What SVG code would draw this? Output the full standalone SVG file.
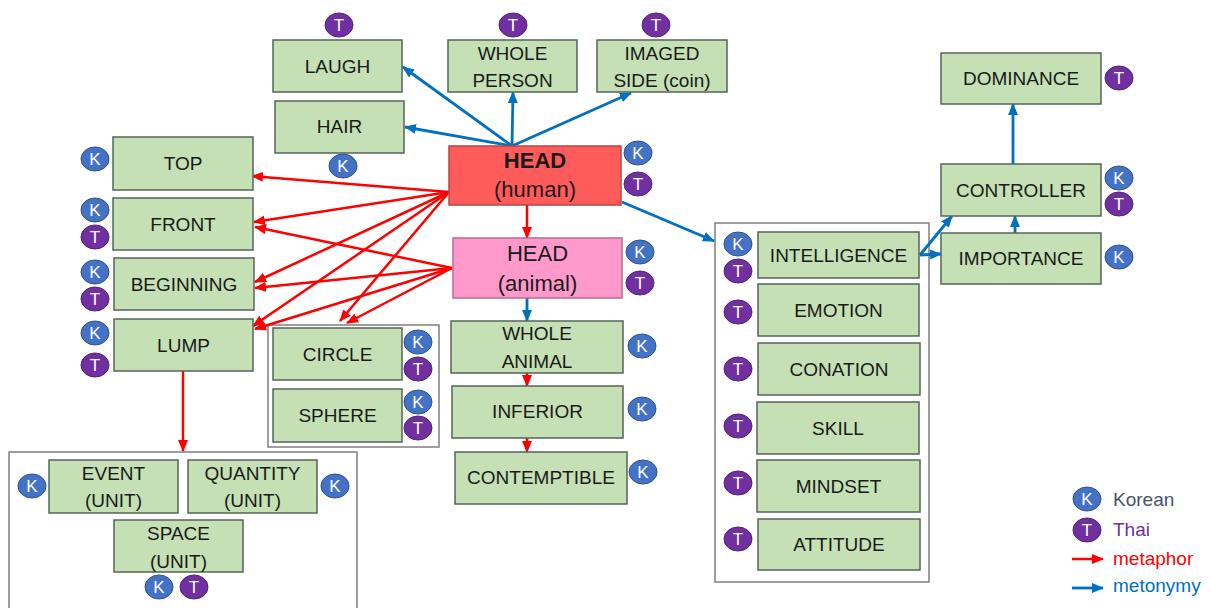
<svg xmlns="http://www.w3.org/2000/svg" width="1211" height="608" viewBox="0 0 1211 608">
<style>
.box{fill:#C5E0B4;stroke:#55655a;stroke-width:1.5}
.grp{fill:#ffffff;stroke:#7f7f7f;stroke-width:1.5}
.t{font-family:"Liberation Sans",Arial,sans-serif;font-size:19px;fill:#1a1a1a;text-anchor:middle}
.h{font-size:22px}
.b{font-weight:bold}
.k{fill:#4472C4;stroke:#2F528F;stroke-width:1}
.th{fill:#7030A0;stroke:#52237a;stroke-width:1}
.bl{font-family:"Liberation Sans",Arial,sans-serif;font-size:17px;fill:#ffffff;text-anchor:middle}
.red{stroke:#FF0000;stroke-width:2.5;fill:none;marker-end:url(#ar)}
.blue{stroke:#0070C0;stroke-width:2.8;fill:none;marker-end:url(#ab)}
.lg{font-family:"Liberation Sans",Arial,sans-serif;font-size:19px}
</style>
<defs>
<marker id="ar" markerUnits="userSpaceOnUse" markerWidth="12" markerHeight="10" refX="11" refY="5" orient="auto"><path d="M0,0 L12,5 L0,10 z" fill="#FF0000"/></marker>
<marker id="ab" markerUnits="userSpaceOnUse" markerWidth="12" markerHeight="10" refX="11" refY="5" orient="auto"><path d="M0,0 L12,5 L0,10 z" fill="#0070C0"/></marker>
<g id="K"><ellipse class="k" cx="0" cy="0" rx="14" ry="12"/><text class="bl" x="0" y="6">K</text></g>
<g id="T"><ellipse class="th" cx="0" cy="0" rx="14" ry="12"/><text class="bl" x="0" y="6">T</text></g>
</defs>
<rect width="1211" height="608" fill="#ffffff"/>

<rect id="grp-unit" class="grp" x="9" y="452" width="348" height="170"/>
<rect id="grp-shape" class="grp" x="268" y="325" width="171" height="122"/>
<rect id="grp-mind" class="grp" x="715" y="223" width="214" height="359"/>

<g id="connectors">
<line class="blue" x1="512" y1="146" x2="403" y2="67"/>
<line class="blue" x1="512" y1="146" x2="405" y2="127"/>
<line class="blue" x1="512" y1="146" x2="513" y2="92"/>
<line class="blue" x1="512" y1="146" x2="631" y2="93"/>
<line class="blue" x1="622" y1="202" x2="714" y2="241"/>
<line class="red" x1="449" y1="192" x2="252" y2="176"/>
<line class="red" x1="449" y1="192" x2="254" y2="222"/>
<line class="red" x1="449" y1="192" x2="255" y2="282"/>
<line class="red" x1="449" y1="192" x2="253" y2="326"/>
<line class="red" x1="449" y1="192" x2="340" y2="321"/>
<line class="red" x1="452" y1="268" x2="255" y2="227"/>
<line class="red" x1="452" y1="268" x2="255" y2="288"/>
<line class="red" x1="452" y1="268" x2="255" y2="329"/>
<line class="red" x1="452" y1="268" x2="347" y2="323"/>
<line class="red" x1="527" y1="205" x2="527" y2="238"/>
<line class="blue" x1="527" y1="298" x2="527" y2="321"/>
<line class="red" x1="527" y1="373" x2="527" y2="386"/>
<line class="red" x1="527" y1="438" x2="527" y2="452"/>
<line class="red" x1="183" y1="371" x2="183" y2="451"/>
<line class="blue" x1="1013" y1="164" x2="1013" y2="104"/>
<line class="blue" x1="1015" y1="233" x2="1015" y2="216"/>
<line class="blue" x1="920" y1="255" x2="952" y2="216"/>
<line class="blue" x1="920" y1="255" x2="941" y2="254"/>
</g>

<g id="laugh"><rect class="box" x="273" y="40" width="129" height="52"/><text class="t" x="337.5" y="73">LAUGH</text><use href="#T" x="339" y="25"/></g>
<g id="whole-person"><rect class="box" x="448" y="40" width="129" height="52"/><text class="t" x="512.5" y="60">WHOLE</text><text class="t" x="512.5" y="86.5">PERSON</text><use href="#T" x="513" y="25"/></g>
<g id="imaged-side"><rect class="box" x="597" y="40" width="130" height="52"/><text class="t" x="662" y="60">IMAGED</text><text class="t" x="662" y="86.5">SIDE (coin)</text><use href="#T" x="656" y="25"/></g>
<g id="hair"><rect class="box" x="275" y="101" width="129" height="52"/><text class="t" x="339.5" y="133">HAIR</text><use href="#K" x="343" y="166"/></g>
<g id="head-human"><rect x="449" y="146" width="172" height="59" fill="#FF5B5B" stroke="#b5473f" stroke-width="1.5"/><text class="t h b" x="535" y="168">HEAD</text><text class="t h" x="535" y="197">(human)</text><use href="#K" x="638" y="153"/><use href="#T" x="638" y="184"/></g>
<g id="head-animal"><rect x="453" y="238" width="169" height="60" fill="#FF99CC" stroke="#b56b8c" stroke-width="1.5"/><text class="t h" x="537.5" y="261">HEAD</text><text class="t h" x="537.5" y="291">(animal)</text><use href="#K" x="640" y="252"/><use href="#T" x="640" y="283"/></g>
<g id="whole-animal"><rect class="box" x="451" y="321" width="172" height="52"/><text class="t" x="537" y="340">WHOLE</text><text class="t" x="537" y="368">ANIMAL</text><use href="#K" x="642" y="346"/></g>
<g id="inferior"><rect class="box" x="452" y="386" width="171" height="52"/><text class="t" x="537.5" y="418">INFERIOR</text><use href="#K" x="642" y="409"/></g>
<g id="contemptible"><rect class="box" x="455" y="452" width="172" height="52"/><text class="t" x="541" y="484">CONTEMPTIBLE</text><use href="#K" x="643" y="472"/></g>

<g id="top"><rect class="box" x="113" y="137" width="140" height="53"/><text class="t" x="183" y="170">TOP</text><use href="#K" x="95" y="159"/></g>
<g id="front"><rect class="box" x="113" y="198" width="140" height="52"/><text class="t" x="183" y="230.5">FRONT</text><use href="#K" x="95" y="210"/><use href="#T" x="95" y="237"/></g>
<g id="beginning"><rect class="box" x="114" y="258" width="140" height="52"/><text class="t" x="184" y="290.5">BEGINNING</text><use href="#K" x="95" y="272"/><use href="#T" x="95" y="299"/></g>
<g id="lump"><rect class="box" x="114" y="319" width="139" height="52"/><text class="t" x="183.5" y="351.5">LUMP</text><use href="#K" x="95" y="333"/><use href="#T" x="95" y="365"/></g>

<g id="circle"><rect class="box" x="273" y="328" width="129" height="52"/><text class="t" x="337.5" y="361">CIRCLE</text><use href="#K" x="418" y="342"/><use href="#T" x="418" y="369"/></g>
<g id="sphere"><rect class="box" x="273" y="389" width="129" height="53"/><text class="t" x="337.5" y="422">SPHERE</text><use href="#K" x="418" y="402"/><use href="#T" x="418" y="428"/></g>

<g id="event"><rect class="box" x="49" y="460" width="129" height="53"/><text class="t" x="113.5" y="480">EVENT</text><text class="t" x="113.5" y="507">(UNIT)</text><use href="#K" x="32" y="486"/></g>
<g id="quantity"><rect class="box" x="188" y="460" width="129" height="53"/><text class="t" x="252.5" y="480">QUANTITY</text><text class="t" x="252.5" y="507">(UNIT)</text><use href="#K" x="335" y="486"/></g>
<g id="space"><rect class="box" x="114" y="520" width="129" height="52"/><text class="t" x="178.5" y="540">SPACE</text><text class="t" x="178.5" y="568">(UNIT)</text><use href="#K" x="159" y="587"/><use href="#T" x="194" y="587"/></g>

<g id="intelligence"><rect class="box" x="758" y="232" width="161" height="46"/><text class="t" x="838.5" y="262">INTELLIGENCE</text><use href="#K" x="738" y="244"/><use href="#T" x="738" y="271"/></g>
<g id="emotion"><rect class="box" x="758" y="284" width="161" height="52"/><text class="t" x="838.5" y="317">EMOTION</text><use href="#T" x="738" y="312"/></g>
<g id="conation"><rect class="box" x="758" y="343" width="162" height="52"/><text class="t" x="839" y="376">CONATION</text><use href="#T" x="738" y="369"/></g>
<g id="skill"><rect class="box" x="757" y="402" width="162" height="52"/><text class="t" x="838" y="434.5">SKILL</text><use href="#T" x="738" y="426"/></g>
<g id="mindset"><rect class="box" x="757" y="460" width="163" height="52"/><text class="t" x="838.5" y="493">MINDSET</text><use href="#T" x="738" y="483"/></g>
<g id="attitude"><rect class="box" x="758" y="519" width="162" height="51"/><text class="t" x="839" y="551">ATTITUDE</text><use href="#T" x="738" y="539"/></g>

<g id="dominance"><rect class="box" x="941" y="53" width="160" height="51"/><text class="t" x="1021" y="85">DOMINANCE</text><use href="#T" x="1119" y="78"/></g>
<g id="controller"><rect class="box" x="941" y="164" width="160" height="52"/><text class="t" x="1021" y="196.5">CONTROLLER</text><use href="#K" x="1119" y="178"/><use href="#T" x="1119" y="204"/></g>
<g id="importance"><rect class="box" x="941" y="233" width="160" height="51"/><text class="t" x="1021" y="265">IMPORTANCE</text><use href="#K" x="1119" y="257"/></g>

<g id="legend">
<use href="#K" x="1087" y="499"/>
<text class="lg" x="1113" y="506" fill="#44546A">Korean</text>
<use href="#T" x="1087" y="530"/>
<text class="lg" x="1113" y="536" fill="#7030A0">Thai</text>
<line x1="1072" y1="559" x2="1103" y2="559" stroke="#FF0000" stroke-width="2.5" marker-end="url(#ar)"/>
<text class="lg" x="1113" y="565" fill="#FF0000">metaphor</text>
<line x1="1072" y1="588" x2="1103" y2="588" stroke="#0070C0" stroke-width="2.8" marker-end="url(#ab)"/>
<text class="lg" x="1113" y="592" fill="#0070C0">metonymy</text>
</g>
</svg>
